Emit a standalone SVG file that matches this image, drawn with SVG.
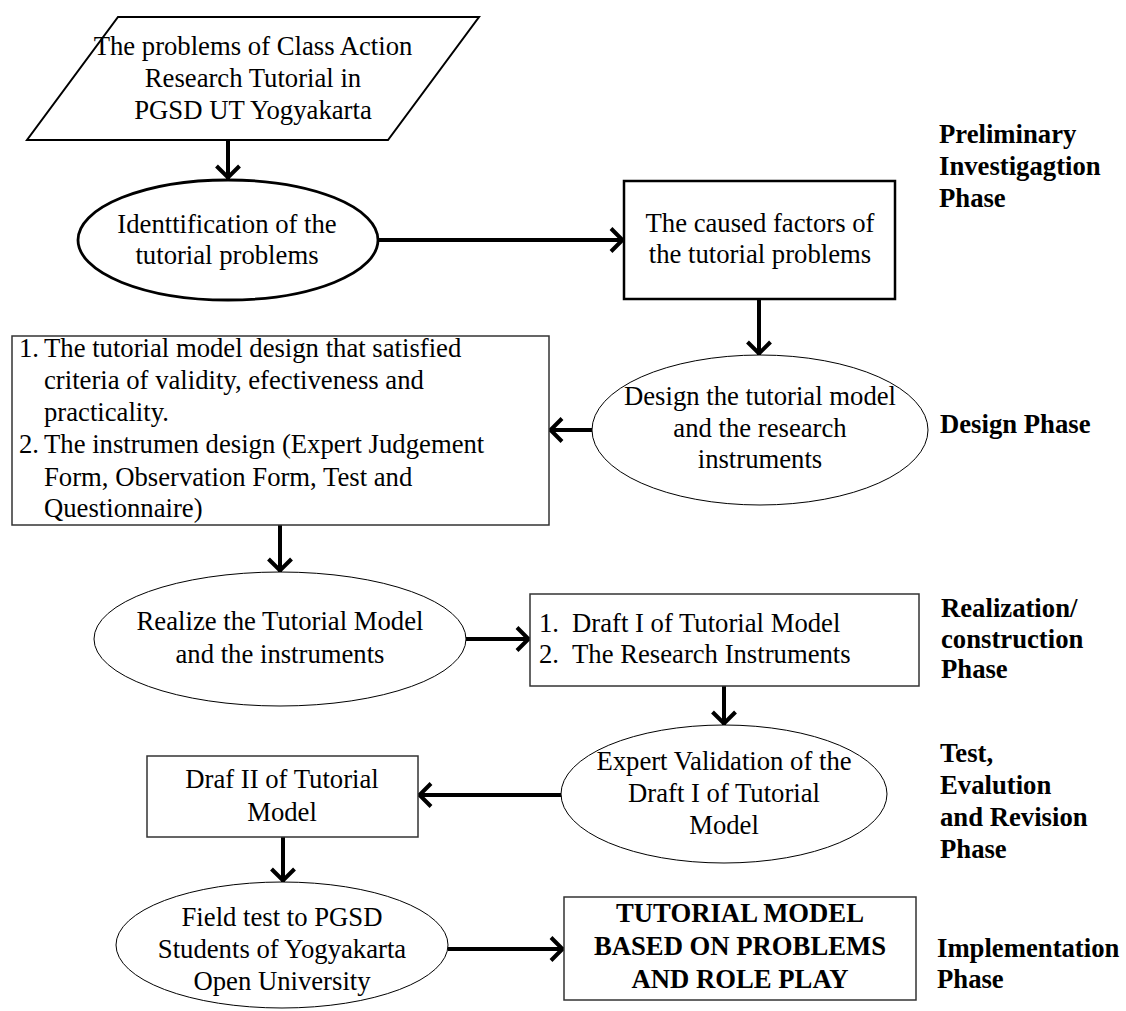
<svg xmlns="http://www.w3.org/2000/svg" width="1126" height="1011" viewBox="0 0 1126 1011">
<style>
text{font-family:"Liberation Serif","Times New Roman",serif;font-size:26.7px;fill:#000}
.c{text-anchor:middle}
.e{text-anchor:end}
.b{font-weight:bold}
.thick{fill:#fff;stroke:#000;stroke-width:2.5}
.thin{fill:#fff;stroke:#000;stroke-width:1}
.box{fill:#fff;stroke:#333;stroke-width:1.5}
.arr{fill:none;stroke:#000;stroke-width:4;marker-end:url(#ah)}
</style>
<defs>
<marker id="ah" markerUnits="userSpaceOnUse" markerWidth="30" markerHeight="30" viewBox="-16 -15 20 30" refX="0" refY="0" orient="auto">
<path d="M-13,-11.5 L-1.5,0 L-13,11.5" fill="none" stroke="#000" stroke-width="4"/>
</marker>
</defs>
<rect width="1126" height="1011" fill="#fff"/>
<g id="connectors">
<path class="arr" d="M228,140 V179"/>
<path class="arr" d="M378,240 H624"/>
<path class="arr" d="M759,299 V355"/>
<path class="arr" d="M592,430 H549"/>
<path class="arr" d="M280,525 V572"/>
<path class="arr" d="M466,639 H530"/>
<path class="arr" d="M724,686 V725"/>
<path class="arr" d="M562,795 H418"/>
<path class="arr" d="M283,837 V882"/>
<path class="arr" d="M448,949 H564"/>
</g>
<g id="n-problems">
<polygon points="118,17 479,17 388,140 27,140" fill="#fff" stroke="#000" stroke-width="2"/>
<text class="c" x="253" y="55">The problems of Class Action</text>
<text class="c" x="253" y="87">Research Tutorial in</text>
<text class="c" x="253" y="119">PGSD UT Yogyakarta</text>
</g>
<g id="n-identification">
<ellipse cx="228" cy="240" rx="150" ry="60" fill="#fff" stroke="#000" stroke-width="2.8"/>
<text class="c" x="227" y="233">Identtification of the</text>
<text class="c" x="227" y="264">tutorial problems</text>
</g>
<g id="n-factors">
<rect class="thick" x="624" y="181" width="271" height="118"/>
<text class="c" x="760" y="232">The caused factors of</text>
<text class="c" x="760" y="263">the tutorial problems</text>
</g>
<g id="n-design">
<ellipse class="thin" cx="760" cy="430" rx="168" ry="75"/>
<text class="c" x="760" y="405">Design the tutorial model</text>
<text class="c" x="760" y="437">and the research</text>
<text class="c" x="760" y="468">instruments</text>
</g>
<g id="n-designout">
<rect class="box" x="12" y="336" width="537" height="189"/>
<text class="e" x="39" y="357">1.</text>
<text x="44" y="357">The tutorial model design that satisfied</text>
<text x="44" y="389">criteria of validity, efectiveness and</text>
<text x="44" y="421">practicality.</text>
<text class="e" x="39" y="453">2.</text>
<text x="44" y="453">The instrumen design (Expert Judgement</text>
<text x="44" y="486">Form, Observation Form, Test and</text>
<text x="44" y="517">Questionnaire)</text>
</g>
<g id="n-realize">
<ellipse class="thin" cx="280" cy="639" rx="186" ry="67"/>
<text class="c" x="280" y="630">Realize the Tutorial Model</text>
<text class="c" x="280" y="663">and the instruments</text>
</g>
<g id="n-draft1">
<rect class="box" x="530" y="594" width="389" height="92"/>
<text x="539" y="632">1.</text>
<text x="572" y="632">Draft I of Tutorial Model</text>
<text x="539" y="663">2.</text>
<text x="572" y="663">The Research Instruments</text>
</g>
<g id="n-validation">
<ellipse class="thin" cx="724" cy="794" rx="163" ry="69"/>
<text class="c" x="724" y="770">Expert Validation of the</text>
<text class="c" x="724" y="802">Draft I of Tutorial</text>
<text class="c" x="724" y="834">Model</text>
</g>
<g id="n-draft2">
<rect class="box" x="147" y="756" width="271" height="81"/>
<text class="c" x="282" y="788">Draf II of Tutorial</text>
<text class="c" x="282" y="821">Model</text>
</g>
<g id="n-fieldtest">
<ellipse class="thin" cx="282" cy="945" rx="166" ry="63"/>
<text class="c" x="282" y="926">Field test to PGSD</text>
<text class="c" x="282" y="958">Students of Yogyakarta</text>
<text class="c" x="282" y="990">Open University</text>
</g>
<g id="n-final">
<rect class="box" x="564" y="897" width="352" height="103"/>
<text class="c b" x="740" y="922">TUTORIAL MODEL</text>
<text class="c b" x="740" y="955">BASED ON PROBLEMS</text>
<text class="c b" x="740" y="988">AND ROLE PLAY</text>
</g>
<g id="phase-labels">
<text class="b" x="939" y="143">Preliminary</text>
<text class="b" x="939" y="175">Investigagtion</text>
<text class="b" x="939" y="207">Phase</text>
<text class="b" x="940" y="433">Design Phase</text>
<text class="b" x="941" y="617">Realization/</text>
<text class="b" x="941" y="648">construction</text>
<text class="b" x="941" y="678">Phase</text>
<text class="b" x="940" y="762">Test,</text>
<text class="b" x="940" y="794">Evalution</text>
<text class="b" x="940" y="826">and Revision</text>
<text class="b" x="940" y="858">Phase</text>
<text class="b" x="937" y="957">Implementation</text>
<text class="b" x="937" y="988">Phase</text>
</g>
</svg>
